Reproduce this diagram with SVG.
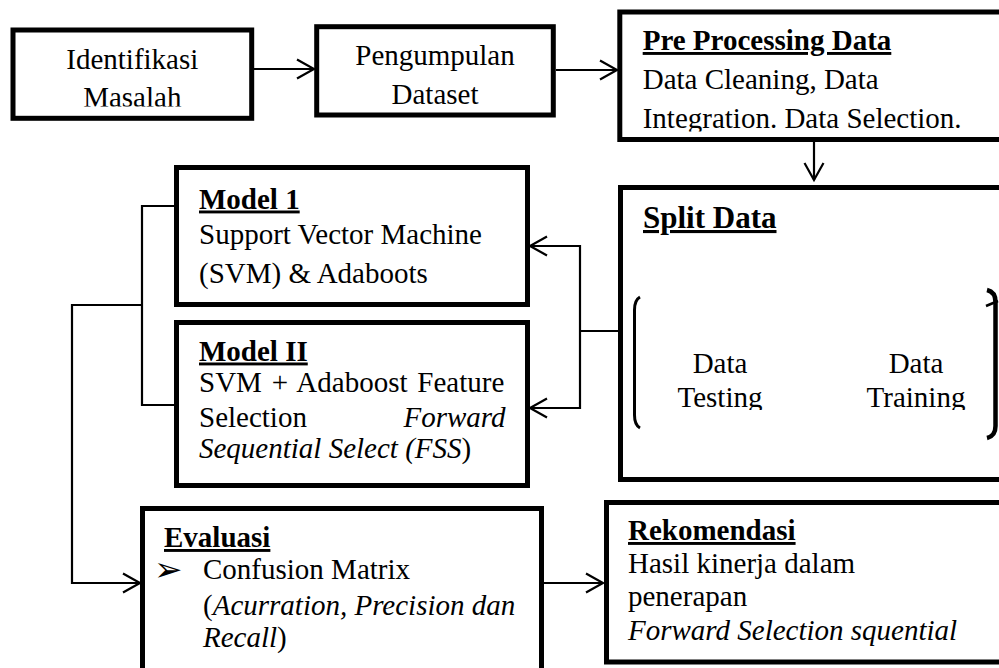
<svg xmlns="http://www.w3.org/2000/svg" width="999" height="668" viewBox="0 0 999 668">
<style>
.box{fill:#fff;stroke:#000;stroke-width:5}
.ln{fill:none;stroke:#000;stroke-width:2.2}
.t{font-family:"Liberation Serif","Times New Roman",serif;font-size:29px;fill:#000}
.h{font-weight:bold;text-decoration:underline;text-decoration-thickness:2.5px;text-underline-offset:2px}
.i{font-style:italic}
.c{text-anchor:middle}
</style>
<defs>
<marker id="arr" markerUnits="userSpaceOnUse" markerWidth="24" markerHeight="24" viewBox="-20 -12 24 24" refX="0" refY="0" orient="auto" overflow="visible">
<path d="M-17,-9.5 L0,0 L-17,9.5" fill="none" stroke="#000" stroke-width="2.2"/>
</marker>
<clipPath id="clip1"><rect x="15" y="32" width="234" height="74.5"/></clipPath>
<clipPath id="clip3"><rect x="622" y="15" width="377" height="116.5"/></clipPath>
<clipPath id="clipS"><rect x="640" y="300" width="340" height="110"/></clipPath>
</defs>

<g id="identifikasi">
<rect class="box" x="13" y="30" width="238.7" height="88.3"/>
<g clip-path="url(#clip1)">
<text class="t c" x="132.3" y="69.3">Identifikasi</text>
<text class="t c" x="132.3" y="107">Masalah</text>
</g>
</g>

<g id="pengumpulan">
<rect class="box" x="316.7" y="26.7" width="236.6" height="88.3"/>
<text class="t c" x="435" y="65">Pengumpulan</text>
<text class="t c" x="435" y="104">Dataset</text>
</g>

<g id="preprocessing">
<rect class="box" x="619.8" y="12" width="500" height="127.5"/>
<g clip-path="url(#clip3)">
<text class="t h" x="642.7" y="50">Pre Processing Data</text>
<text class="t" x="642.7" y="89">Data Cleaning, Data</text>
<text class="t" x="642.7" y="127.5">Integration. Data Selection.</text>
</g>
</g>

<g id="splitdata">
<rect class="box" x="620.5" y="187.5" width="500" height="292"/>
<text class="t h" x="643" y="228" style="font-size:31px">Split Data</text>
<path d="M640,297 Q634.5,300 634.5,310 V415 Q634.5,425 640,428" fill="none" stroke="#000" stroke-width="3"/>
<path d="M987,290 Q995.5,292 995.5,302 V426 Q995.5,436 987,438" fill="none" stroke="#000" stroke-width="4.5"/>
<path d="M986,306 L998,301" fill="none" stroke="#000" stroke-width="2.5"/>
<g clip-path="url(#clipS)">
<text class="t c" x="720" y="373">Data</text>
<text class="t c" x="720" y="407">Testing</text>
<text class="t c" x="916" y="373">Data</text>
<text class="t c" x="916" y="407">Training</text>
</g>
</g>

<g id="model1">
<rect class="box" x="176.5" y="167.5" width="351" height="137"/>
<text class="t h" x="199" y="208.5">Model 1</text>
<text class="t" x="199" y="244">Support Vector Machine</text>
<text class="t" x="199" y="283">(SVM) &amp; Adaboots</text>
</g>

<g id="model2">
<rect class="box" x="176.5" y="322.5" width="351" height="163"/>
<text class="t h" x="199" y="360.5">Model II</text>
<text class="t" x="199" y="391.5" style="word-spacing:2.6px">SVM + Adaboost Feature</text>
<text class="t" y="426.5"><tspan x="199">Selection</tspan> <tspan class="i" x="505.5" text-anchor="end">Forward</tspan></text>
<text class="t" x="199" y="458"><tspan class="i">Sequential Select (FSS</tspan>)</text>
</g>

<g id="evaluasi">
<rect class="box" x="142.5" y="508.5" width="399" height="300"/>
<text class="t h" x="164" y="547">Evaluasi</text>
<text x="154" y="581" style="font-family:'DejaVu Sans',sans-serif;font-size:34px">➢</text>
<text class="t" x="203" y="579">Confusion Matrix</text>
<text class="t" x="203" y="615">(<tspan class="i">Acurration, Precision dan</tspan></text>
<text class="t" x="203" y="647"><tspan class="i">Recall</tspan>)</text>
</g>

<g id="rekomendasi">
<rect class="box" x="606.5" y="502.5" width="500" height="159.5"/>
<text class="t h" x="628" y="540">Rekomendasi</text>
<text class="t" x="628" y="573">Hasil kinerja dalam</text>
<text class="t" x="628" y="606">penerapan</text>
<text class="t i" x="628" y="640">Forward Selection squential</text>
</g>

<g id="connectors">
<path class="ln" d="M254,69 H314" marker-end="url(#arr)"/>
<path class="ln" d="M556,70 H617" marker-end="url(#arr)"/>
<path class="ln" d="M814,142 V180" marker-end="url(#arr)"/>
<path class="ln" d="M618,331 H580"/>
<path class="ln" d="M580,245 V409"/>
<path class="ln" d="M580,246 H530" marker-end="url(#arr)"/>
<path class="ln" d="M580,408 H530" marker-end="url(#arr)"/>
<path class="ln" d="M176,206 H142 V405 H176"/>
<path class="ln" d="M142,305 H72 V583 H140" marker-end="url(#arr)"/>
<path class="ln" d="M544,583 H603" marker-end="url(#arr)"/>
</g>
</svg>
